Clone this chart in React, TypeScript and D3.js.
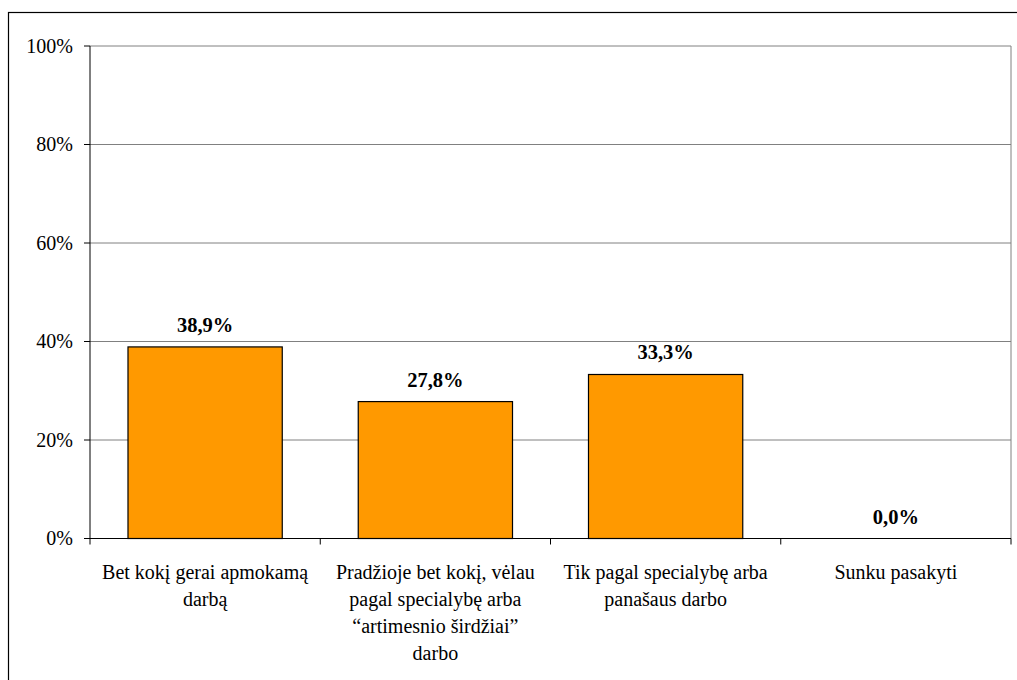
import React from "react";
import * as d3 from "d3";

const categories: string[][] = [
  ["Bet kokį gerai apmokamą", "darbą"],
  ["Pradžioje bet kokį, vėlau", "pagal specialybę arba", "“artimesnio širdžiai”", "darbo"],
  ["Tik pagal specialybę arba", "panašaus darbo"],
  ["Sunku pasakyti"],
];
const values: number[] = [38.9, 27.8, 33.3, 0.0];
const valueLabels: string[] = ["38,9%", "27,8%", "33,3%", "0,0%"];
const yTicks: number[] = [0, 20, 40, 60, 80, 100];

export default function App() {
  const W = 1017, H = 680;
  const left = 90, right = 1011, top = 46, bottom = 538.5;
  const x = d3.scaleBand<number>().domain(d3.range(values.length)).range([left, right]).paddingInner(0.33).paddingOuter(0.165);
  const xb = d3.scaleBand<number>().domain(d3.range(values.length)).range([left, right]);
  const y = d3.scaleLinear().domain([0, 100]).range([bottom, top]);
  const font = "'Liberation Serif', 'Times New Roman', serif";
  return (
    <svg width={W} height={H} style={{ position: "absolute", left: 0, top: 0 }}>
      <rect x={8.5} y={12.5} width={W} height={H} fill="white" stroke="black" strokeWidth={1.2} />
      {yTicks.map((t) => (
        <g key={t}>
          {t > 0 && <line x1={left} x2={right} y1={y(t)} y2={y(t)} stroke="#808080" strokeWidth={1} />}
          <line x1={left - 6} x2={left} y1={y(t)} y2={y(t)} stroke="black" />
          <text x={73} y={y(t) + 6.8} textAnchor="end" fontFamily={font} fontSize={20}>{t}%</text>
        </g>
      ))}
      <line x1={right} x2={right} y1={top} y2={bottom} stroke="#808080" />
      {values.map((v, i) => (
        <g key={i}>
          <rect x={x(i)} y={y(v)} width={x.bandwidth()} height={bottom - y(v)} fill="#FF9900" stroke="black" strokeWidth={1.2} />
          <text x={x(i)! + x.bandwidth() / 2} y={y(v) - 15} textAnchor="middle" fontFamily={font} fontWeight="bold" fontSize={20.5}>{valueLabels[i]}</text>
          {categories[i].map((line, j) => (
            <text key={j} x={xb(i)! + xb.bandwidth() / 2} y={578.5 + j * 27.3} textAnchor="middle" fontFamily={font} fontSize={20}>{line}</text>
          ))}
        </g>
      ))}
      <line x1={left} x2={left} y1={top} y2={bottom} stroke="black" />
      <line x1={left} x2={right} y1={bottom} y2={bottom} stroke="black" />
      {d3.range(values.length + 1).map((i) => {
        const xx = i < values.length ? xb(i)! : right;
        return <line key={i} x1={xx} x2={xx} y1={bottom} y2={bottom + 6} stroke="black" />;
      })}
    </svg>
  );
}
